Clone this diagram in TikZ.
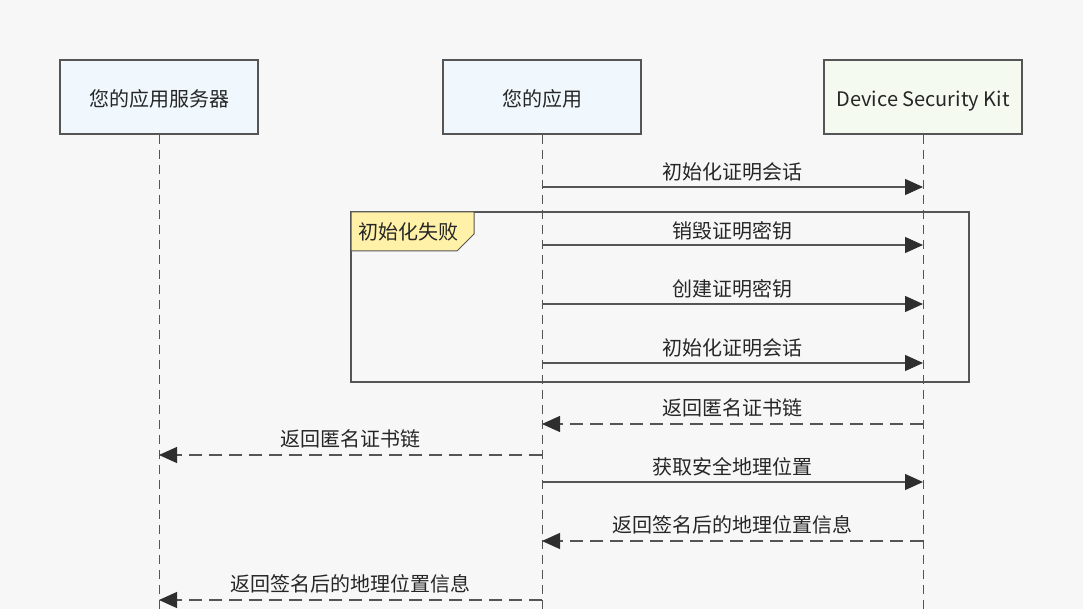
\documentclass[tikz,border=0pt]{standalone}
\usepackage{fontspec}
\setmainfont{Noto Sans CJK SC}
\usetikzlibrary{arrows.meta}
\definecolor{bgcol}{HTML}{F7F7F7}
\definecolor{linecol}{HTML}{555555}
\definecolor{tipcol}{HTML}{2E2E2E}
\definecolor{bluebox}{HTML}{F0F8FE}
\definecolor{greenbox}{HTML}{F5FAF1}
\definecolor{tabcol}{HTML}{FFF2A8}
\definecolor{textcol}{HTML}{262626}

\begin{document}
\begin{tikzpicture}[x=1pt,y=-1pt,
	actor/.style={draw=linecol,line width=1.2pt,minimum width=198pt,minimum height=74pt,inner sep=0pt,text height=20pt,text depth=0.8pt,font=\fontsize{20}{24}\selectfont,text=textcol},
	life/.style={draw=linecol,line width=0.9pt,dash pattern=on 9pt off 6pt},
	msg/.style={draw=linecol,line width=1.2pt,-{Triangle[length=18pt,width=16pt,color=tipcol]}},
	reply/.style={msg,dash pattern=on 13pt off 7pt},
	lbl/.style={font=\fontsize{20}{24}\selectfont,text=textcol}]
	\fill[bgcol] (0,0) rectangle (1083,609);
	\useasboundingbox (0,0) rectangle (1083,609);

	% participants
	\node[actor,fill=bluebox] (server) at (159,97) {您的应用服务器};
	\node[actor,fill=bluebox] (app) at (542,97) {您的应用};
	\node[actor,fill=greenbox] (dsk) at (923,97) {Device Security Kit};

	\coordinate (serverend) at (159,609);
	\coordinate (append) at (542,609);
	\coordinate (dskend) at (923,609);
	\draw[life] (server.south) -- (serverend);
	\draw[life] (app.south) -- (append);
	\draw[life] (dsk.south) -- (dskend);

	% fragment
	\draw[draw=linecol,line width=1.2pt] (351,212) rectangle (969,382);
	\draw[draw=linecol,line width=1pt,fill=tabcol] (351,212) -- (474,212) -- (474,234) -- (457,251) -- (351,251) -- cycle;
	\node[lbl,anchor=west] (alt) at (355,232) {初始化失败};

	% messages
	\foreach \y/\name in {187/a,245/b,304/c,363/d,424/e,455/f,482/g,541/h,600/i}{
		\coordinate (s\name) at (159,\y);
		\coordinate (p\name) at (542,\y);
		\coordinate (k\name) at (923,\y);
	}
	\draw[msg] (pa) -- (ka) node[lbl,midway,above=2pt]{初始化证明会话};
	\draw[msg] (pb) -- (kb) node[lbl,midway,above=1pt]{销毁证明密钥};
	\draw[msg] (pc) -- (kc) node[lbl,midway,above=2pt]{创建证明密钥};
	\draw[msg] (pd) -- (kd) node[lbl,midway,above=2pt]{初始化证明会话};
	\draw[reply] (ke) -- (pe) node[lbl,midway,above=3pt]{返回匿名证书链};
	\draw[reply] (pf) -- (sf) node[lbl,midway,above=3pt]{返回匿名证书链};
	\draw[msg] (pg) -- (kg) node[lbl,midway,above=2pt]{获取安全地理位置};
	\draw[reply] (kh) -- (ph) node[lbl,midway,above=3pt]{返回签名后的地理位置信息};
	\draw[reply] (pi) -- (si) node[lbl,midway,above=3pt]{返回签名后的地理位置信息};
\end{tikzpicture}
\end{document}
